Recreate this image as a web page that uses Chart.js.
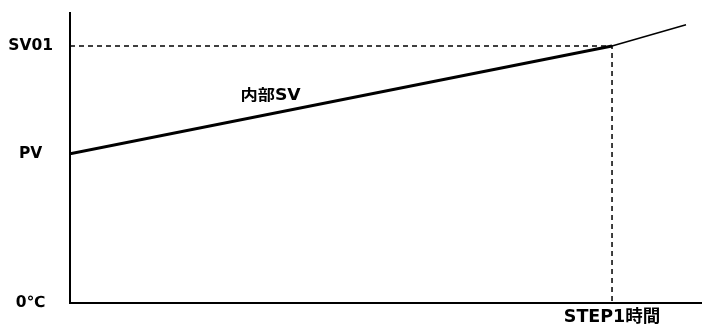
<!DOCTYPE html>
<html><head><meta charset="utf-8">
<script src="https://cdn.jsdelivr.net/npm/chart.js@4/dist/chart.umd.min.js"></script>
<style>html,body{margin:0;padding:0;background:#fff}#w{width:702px;height:325px}</style>
</head><body><div id="w"><canvas id="c"></canvas></div>
<script>
const yTickValues = [0, 58, 100];
const yTickLabels = ["0℃", "PV", "SV01"];
const xTickValues = [1];
const xTickLabels = ["STEP1時間"];
const internalSV = [{x:0, y:58}, {x:1, y:100}];
const afterStep = [{x:1, y:100}, {x:1.1365, y:108.2}];
const guide = [{x:0, y:100}, {x:1, y:100}, {x:1, y:0}];
const lineLabel = {text:"内部SV", x:0.37, y:80.5};
const FONT = "'DejaVu Sans','Noto Sans CJK JP',sans-serif";

const labelPlugin = {
  id:'lbl',
  afterDatasetsDraw(chart){
    const {ctx, scales:{x,y}} = chart;
    ctx.save();
    ctx.font = "bold 15px " + FONT;
    ctx.fillStyle = '#000';
    ctx.textAlign = 'center';
    ctx.textBaseline = 'middle';
    const px = x.getPixelForValue(lineLabel.x), py = y.getPixelForValue(lineLabel.y);
    ctx.translate(px, py);
    ctx.scale(1.15, 1);
    ctx.fillText(lineLabel.text, 0, 0);
    ctx.restore();
  }
};

new Chart(document.getElementById('c'), {
  type:'scatter',
  data:{datasets:[
    {data:guide, showLine:true, borderColor:'#000', borderWidth:1.5, borderDash:[5,4], pointRadius:0, fill:false},
    {data:internalSV, showLine:true, borderColor:'#000', borderWidth:3, pointRadius:0, fill:false},
    {data:afterStep, showLine:true, borderColor:'#000', borderWidth:1.5, pointRadius:0, fill:false}
  ]},
  options:{
    responsive:true, maintainAspectRatio:false, animation:false,
    layout:{padding:{top:13,left:0,right:0,bottom:0}},
    plugins:{legend:{display:false}, tooltip:{enabled:false}},
    scales:{
      x:{type:'linear', min:0, max:1.166,
        grid:{display:false, drawTicks:false},
        border:{display:true, color:'#000', width:2},
        afterBuildTicks(s){ s.ticks = xTickValues.map(v=>({value:v})); },
        afterFit(s){ s.height = 22; s.paddingLeft = 0; s.paddingRight = 0; },
        ticks:{color:'#000', padding:4, maxRotation:0, autoSkip:false,
          font:{family:FONT, size:17.5, weight:'bold'},
          callback(v){ const i = xTickValues.indexOf(v); return i>=0 ? xTickLabels[i] : ''; }}
      },
      y:{type:'linear', min:0, max:112.8,
        grid:{display:false, drawTicks:false},
        border:{display:true, color:'#000', width:2},
        afterBuildTicks(s){ s.ticks = yTickValues.map(v=>({value:v})); },
        afterFit(s){ s.width = 70; s.paddingTop = 0; s.paddingBottom = 0; },
        ticks:{color:'#000', padding:17, crossAlign:'center', autoSkip:false,
          font:{family:FONT, size:15.5, weight:'bold'},
          callback(v){ const i = yTickValues.indexOf(v); return i>=0 ? yTickLabels[i] : ''; }}
      }
    }
  },
  plugins:[labelPlugin]
});
</script></body></html>
